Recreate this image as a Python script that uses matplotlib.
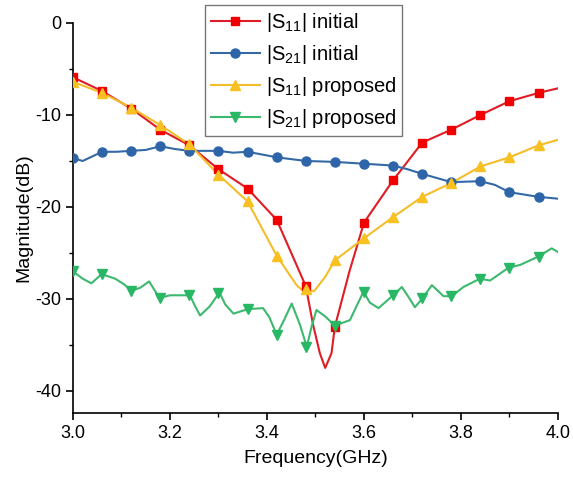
import matplotlib
matplotlib.use("Agg")
import matplotlib.pyplot as plt
from matplotlib.ticker import MultipleLocator, FormatStrFormatter

plt.rcParams['font.family'] = ['Liberation Sans', 'DejaVu Sans']
plt.rcParams['mathtext.fontset'] = 'custom'
plt.rcParams['mathtext.rm'] = 'Liberation Sans'
plt.rcParams['mathtext.it'] = 'Liberation Sans'
plt.rcParams['axes.unicode_minus'] = False

# marker frequencies (GHz), one marker every 60 MHz
f_mark = [3.00, 3.06, 3.12, 3.18, 3.24, 3.30, 3.36, 3.42, 3.48,
          3.54, 3.60, 3.66, 3.72, 3.78, 3.84, 3.90, 3.96]

# |S11| initial
s11_init_f = [3.00, 3.06, 3.12, 3.18, 3.24, 3.30, 3.36, 3.42, 3.48, 3.495,
              3.509, 3.520, 3.533, 3.54, 3.57, 3.60, 3.66, 3.72, 3.78,
              3.84, 3.90, 3.96, 4.00]
s11_init = [-5.9, -7.4, -9.3, -11.6, -13.3, -15.9, -18.0, -21.4, -28.6, -32.8,
            -35.9, -37.5, -35.9, -33.0, -27.0, -21.7, -17.1, -13.0, -11.6,
            -10.0, -8.5, -7.6, -7.1]
s11_init_mark = [-5.9, -7.4, -9.3, -11.6, -13.3, -15.9, -18.0, -21.4, -28.6,
                 -33.0, -21.7, -17.1, -13.0, -11.6, -10.0, -8.5, -7.6]

# |S21| initial
s21_init_f = [3.00, 3.02, 3.06, 3.09, 3.12, 3.15, 3.18, 3.21, 3.24, 3.30,
              3.33, 3.36, 3.42, 3.48, 3.54, 3.60, 3.66, 3.69, 3.72, 3.78,
              3.84, 3.87, 3.90, 3.96, 4.00]
s21_init = [-14.7, -15.0, -14.0, -14.0, -13.9, -13.8, -13.4, -13.7, -13.9, -13.9,
            -14.1, -14.0, -14.6, -15.0, -15.1, -15.3, -15.5, -15.9, -16.4, -17.3,
            -17.2, -17.6, -18.4, -18.9, -19.1]
s21_init_mark = [-14.7, -14.0, -13.9, -13.4, -13.9, -13.9, -14.0, -14.6, -15.0,
                 -15.1, -15.3, -15.5, -16.4, -17.3, -17.2, -18.4, -18.9]

# |S11| proposed
s11_prop_f = [3.00, 3.06, 3.12, 3.18, 3.24, 3.30, 3.36, 3.42, 3.461, 3.478,
              3.498, 3.520, 3.54, 3.60, 3.66, 3.72, 3.78, 3.84, 3.90, 3.96, 4.00]
s11_prop = [-6.4, -7.6, -9.2, -11.1, -13.2, -16.5, -19.4, -25.3, -28.5, -29.3,
            -29.1, -27.6, -25.8, -23.4, -21.1, -18.9, -17.4, -15.6, -14.6, -13.3, -12.7]
s11_prop_mark = [-6.4, -7.6, -9.2, -11.1, -13.2, -16.5, -19.4, -25.3, -28.9,
                 -25.8, -23.4, -21.1, -18.9, -17.4, -15.6, -14.6, -13.3]

# |S21| proposed
s21_prop_f = [3.000, 3.020, 3.038, 3.059, 3.087, 3.105, 3.121, 3.138, 3.157,
              3.170, 3.179, 3.200, 3.241, 3.252, 3.262, 3.282, 3.302, 3.314,
              3.331, 3.361, 3.392, 3.405, 3.420, 3.436, 3.451, 3.468, 3.482,
              3.492, 3.502, 3.520, 3.540, 3.571, 3.599, 3.612, 3.630, 3.660,
              3.678, 3.692, 3.705, 3.721, 3.740, 3.764, 3.781, 3.805, 3.839,
              3.860, 3.898, 3.922, 3.959, 3.987, 4.000]
s21_prop = [-27.0, -27.8, -28.3, -27.3, -27.8, -28.4, -29.1, -28.8, -28.1,
            -29.2, -29.9, -29.6, -29.6, -30.8, -31.8, -30.8, -29.3, -30.6,
            -31.6, -31.1, -31.0, -32.0, -33.9, -32.2, -30.5, -32.8, -35.2,
            -33.0, -31.2, -31.9, -32.9, -32.3, -29.2, -30.4, -31.0, -29.6,
            -28.7, -29.8, -30.9, -29.9, -28.5, -29.7, -29.7, -28.7, -27.8,
            -28.0, -26.6, -26.3, -25.4, -24.5, -24.9]
s21_prop_mark = [-27.0, -27.3, -29.1, -29.9, -29.6, -29.3, -31.1, -33.9, -35.2,
                 -32.9, -29.2, -29.6, -29.9, -29.7, -27.8, -26.6, -25.4]

fig = plt.figure(figsize=(5.73, 4.83), dpi=100)
ax = fig.add_axes([0.1274, 0.1449, 0.8464, 0.8075])

red_line, red_mk = '#e01c24', '#f00000'
blue_line, blue_mk = '#3469a6', '#2d65a8'
yel_line, yel_mk = '#f4bd2a', '#f8c020'
grn_line, grn_mk = '#3cb96e', '#28b865'

series = [
    (s11_init_f, s11_init, s11_init_mark, red_line, red_mk, 's', 5.5, r'|S$_{11}$| initial'),
    (s21_init_f, s21_init, s21_init_mark, blue_line, blue_mk, 'o', 6.5, r'|S$_{21}$| initial'),
    (s11_prop_f, s11_prop, s11_prop_mark, yel_line, yel_mk, '^', 7, r'|S$_{11}$| proposed'),
    (s21_prop_f, s21_prop, s21_prop_mark, grn_line, grn_mk, 'v', 7, r'|S$_{21}$| proposed'),
]

handles = []
for f, y, ym, lc, mc, mk, ms, lab in series:
    ax.plot(f, y, color=lc, lw=1.5, zorder=2)
    ax.plot(f_mark, ym, ls='none', marker=mk, ms=ms, color=mc, zorder=3)
    h, = ax.plot([], [], color=lc, lw=1.5, marker=mk, ms=ms, mfc=mc, mec=mc, label=lab)
    handles.append(h)

ax.set_xlim(3.0, 4.0)
ax.set_ylim(-42.4, 0)
ax.xaxis.set_major_locator(MultipleLocator(0.2))
ax.xaxis.set_minor_locator(MultipleLocator(0.1))
ax.yaxis.set_major_locator(MultipleLocator(10))
ax.yaxis.set_minor_locator(MultipleLocator(5))
ax.xaxis.set_major_formatter(FormatStrFormatter('%.1f'))

for side in ('top', 'right'):
    ax.spines[side].set_visible(False)
for side in ('left', 'bottom'):
    ax.spines[side].set_linewidth(1.2)
ax.tick_params(which='major', direction='out', length=5, width=1.2, labelsize=13)
ax.tick_params(which='minor', direction='out', length=3, width=1.0)

ax.set_xlabel('Frequency(GHz)', fontsize=14, labelpad=6)
ax.set_ylabel('Magnitude(dB)', fontsize=14, labelpad=2)

leg = fig.legend(handles=handles, loc='upper left', bbox_to_anchor=(0.358, 0.99),
                 fontsize=14.5, frameon=True, fancybox=False, edgecolor='#555555',
                 handlelength=2.4, handletextpad=0.3, borderpad=0.3,
                 labelspacing=0.45, borderaxespad=0)
leg.get_frame().set_linewidth(1.0)

fig.savefig('out.png', dpi=100)
